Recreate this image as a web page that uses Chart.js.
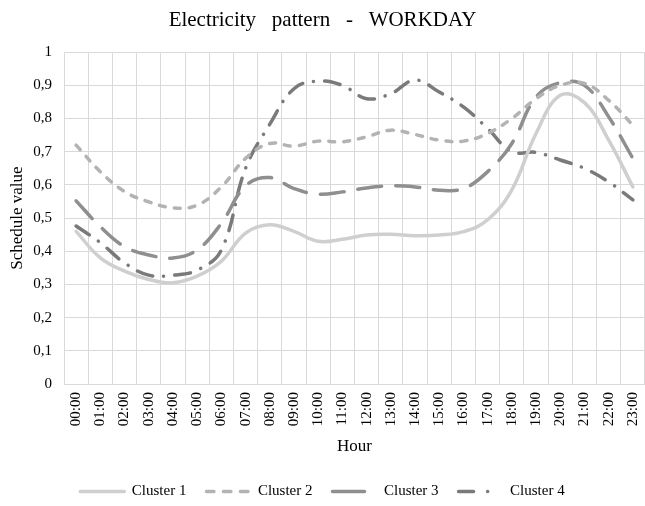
<!DOCTYPE html>
<html>
<head>
<meta charset="utf-8">
<script src="https://cdn.jsdelivr.net/npm/chart.js@4.4.1/dist/chart.umd.min.js"></script>
<style>
  html, body { margin: 0; padding: 0; background: #fff; }
  #wrap { width: 645px; height: 506px; }
</style>
</head>
<body>
<div id="wrap"><canvas id="chart" width="645" height="506"></canvas></div>
<script>
const hours = ['00:00', '01:00', '02:00', '03:00', '04:00', '05:00', '06:00', '07:00', '08:00', '09:00', '10:00', '11:00',
  '12:00', '13:00', '14:00', '15:00', '16:00', '17:00', '18:00', '19:00', '20:00', '21:00', '22:00', '23:00'];

const cluster1 = [0.46, 0.38, 0.34, 0.315, 0.305, 0.325, 0.37, 0.455, 0.48, 0.46, 0.43, 0.436,
  0.449, 0.451, 0.447, 0.449, 0.459, 0.495, 0.585, 0.755, 0.87, 0.848, 0.735, 0.594];
const cluster2 = [0.72, 0.64, 0.58, 0.549, 0.531, 0.539, 0.594, 0.68, 0.725, 0.717, 0.732, 0.73,
  0.745, 0.765, 0.752, 0.735, 0.732, 0.755, 0.8, 0.86, 0.9, 0.906, 0.855, 0.78];
const cluster3 = [0.552, 0.474, 0.414, 0.389, 0.38, 0.404, 0.484, 0.597, 0.622, 0.589, 0.572, 0.579,
  0.591, 0.597, 0.594, 0.584, 0.589, 0.64, 0.725, 0.865, 0.908, 0.9, 0.805, 0.68];
const cluster4 = [0.476, 0.426, 0.365, 0.328, 0.328, 0.343, 0.404, 0.65, 0.783, 0.89, 0.913, 0.9,
  0.86, 0.875, 0.916, 0.88, 0.835, 0.77, 0.7, 0.698, 0.675, 0.65, 0.609, 0.555];

const seriesNames = ['Cluster 1', 'Cluster 2', 'Cluster 3', 'Cluster 4'];

const serif = "'Liberation Serif', 'Times New Roman', serif";

// dash used for the short sample line in the legend
const legendDashes = [[], [7.5, 9.5], [32, 100], [15, 14, 0.1, 100]];

function line(label, data, color, dash) {
  return {
    label: label,
    data: data,
    borderColor: color,
    backgroundColor: color,
    borderWidth: 3.5,
    borderDash: dash,
    borderCapStyle: 'round',
    pointRadius: 0,
    tension: 0.4,
    fill: false
  };
}

new Chart(document.getElementById('chart'), {
  type: 'line',
  data: {
    labels: hours,
    datasets: [
      line(seriesNames[0], cluster1, '#cfcfcf', []),
      line(seriesNames[1], cluster2, '#b3b3b3', [6, 9]),
      line(seriesNames[2], cluster3, '#8f8f8f', [24, 14]),
      line(seriesNames[3], cluster4, '#7a7a7a', [16, 11, 0.1, 11])
    ]
  },
  options: {
    responsive: false,
    animation: false,
    layout: { padding: { left: 0, right: 0, top: 0, bottom: -3 } },
    plugins: {
      title: {
        display: true,
        text: 'Electricity   pattern   -   WORKDAY',
        color: '#000',
        font: { family: serif, size: 21, weight: 'normal' },
        padding: { top: 8, bottom: 19 }
      },
      legend: {
        position: 'bottom',
        labels: {
          usePointStyle: true,
          pointStyle: 'line',
          pointStyleWidth: 44,
          color: '#000',
          font: { family: serif, size: 15 },
          padding: 20,
          // the line legend drops borderDash, so put it back
          generateLabels: chart => Chart.defaults.plugins.legend.labels.generateLabels(chart).map(item => {
            const ds = chart.data.datasets[item.datasetIndex];
            item.lineDash = legendDashes[item.datasetIndex];
            item.lineCap = 'round';
            item.strokeStyle = ds.borderColor;
            item.lineWidth = ds.borderWidth;
            return item;
          })
        }
      },
      tooltip: { enabled: false }
    },
    scales: {
      x: {
        offset: true,
        grid: { offset: true, color: '#d9d9d9', lineWidth: 1, drawTicks: false },
        border: { color: '#d9d9d9' },
        ticks: {
          minRotation: 90,
          maxRotation: 90,
          padding: 8,
          color: '#000',
          font: { family: serif, size: 15 }
        },
        title: {
          display: true,
          text: 'Hour',
          color: '#000',
          font: { family: serif, size: 17 },
          padding: { top: 6, bottom: 7 }
        },
        afterFit: s => { s.paddingRight = 0; s.height = 80; }
      },
      y: {
        min: 0,
        max: 1,
        grid: { color: '#d9d9d9', lineWidth: 1, drawTicks: false },
        border: { color: '#d9d9d9' },
        ticks: {
          stepSize: 0.1,
          padding: 12,
          color: '#000',
          font: { family: serif, size: 15 },
          callback: v => (v === 0 || v === 1) ? String(v) : v.toFixed(1).replace('.', ',')
        },
        title: {
          display: true,
          text: 'Schedule value',
          color: '#000',
          font: { family: serif, size: 17 },
          padding: { top: 7, bottom: 4 }
        },
        afterFit: s => { s.width = 64; }
      }
    }
  }
});
</script>
</body>
</html>
